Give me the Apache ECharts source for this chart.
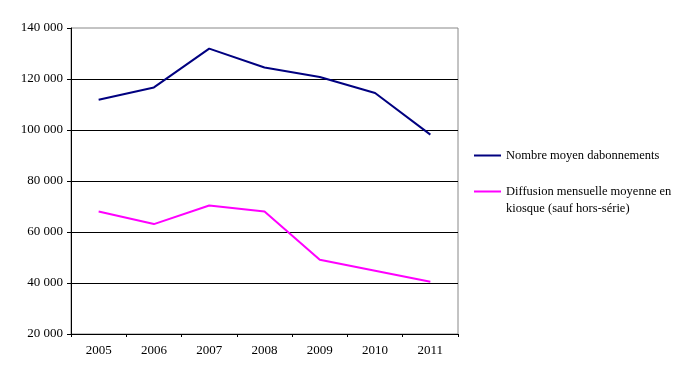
<!DOCTYPE html>
<html><head><meta charset="utf-8">
<script src="https://cdn.jsdelivr.net/npm/echarts@6/dist/echarts.min.js"></script>
<style>html,body{margin:0;padding:0;background:#fff}#c{width:685px;height:380px}</style>
</head><body><div id="c"></div>
<script>
const years = ['2005','2006','2007','2008','2009','2010','2011'];
const abonnements = [111900, 116700, 131900, 124500, 120800, 114500, 98200];
const kiosque = [68000, 63100, 70400, 68000, 49100, 44800, 40500];
const seriesNames = ['Nombre moyen dabonnements', 'Diffusion mensuelle moyenne en kiosque (sauf hors-série)'];
const yMin = 20000, yMax = 140000, yStep = 20000;

const font = 'Liberation Serif';
const chart = echarts.init(document.getElementById('c'), null, {renderer: 'canvas'});
chart.setOption({
  animation: false,
  backgroundColor: '#fff',
  grid: {left: 71, right: 227, top: 28, bottom: 46, show: true, borderColor: '#888', borderWidth: 1, backgroundColor: 'transparent'},
  legend: [
    {
      data: [seriesNames[0]], orient: 'vertical', left: 469, top: 142,
      itemWidth: 27, itemHeight: 2,
      textStyle: {fontFamily: font, fontSize: 12.5, color: '#000', lineHeight: 17},
      icon: 'rect'
    },
    {
      data: [seriesNames[1]], orient: 'vertical', left: 469, top: 161,
      itemWidth: 27, itemHeight: 2,
      formatter: () => '\nDiffusion mensuelle moyenne en\nkiosque (sauf hors-série)',
      textStyle: {fontFamily: font, fontSize: 12.5, color: '#000', lineHeight: 17},
      icon: 'rect'
    }
  ],
  xAxis: {
    type: 'category', data: years, boundaryGap: true,
    axisLine: {lineStyle: {color: '#000', width: 1}},
    axisTick: {show: true, length: 3, lineStyle: {color: '#000'}},
    axisLabel: {fontFamily: font, fontSize: 13, color: '#000', margin: 10},
    splitLine: {show: false}
  },
  yAxis: {
    type: 'value', min: yMin, max: yMax, interval: yStep,
    axisLine: {show: true, lineStyle: {color: '#000', width: 1}},
    axisTick: {show: true, length: 4, lineStyle: {color: '#000'}},
    axisLabel: {fontFamily: font, fontSize: 13, color: '#000', margin: 8,
      formatter: v => String(v).replace(/\B(?=(\d{3})+(?!\d))/g, ' ')},
    splitLine: {show: true, showMaxLine: false, lineStyle: {color: '#000', width: 1}}
  },
  series: [
    {name: seriesNames[0], type: 'line', data: abonnements, symbol: 'none',
      lineStyle: {color: '#000080', width: 2}, itemStyle: {color: '#000080'}},
    {name: seriesNames[1], type: 'line', data: kiosque, symbol: 'none',
      lineStyle: {color: '#FF00FF', width: 2}, itemStyle: {color: '#FF00FF'}}
  ]
});
</script></body></html>
